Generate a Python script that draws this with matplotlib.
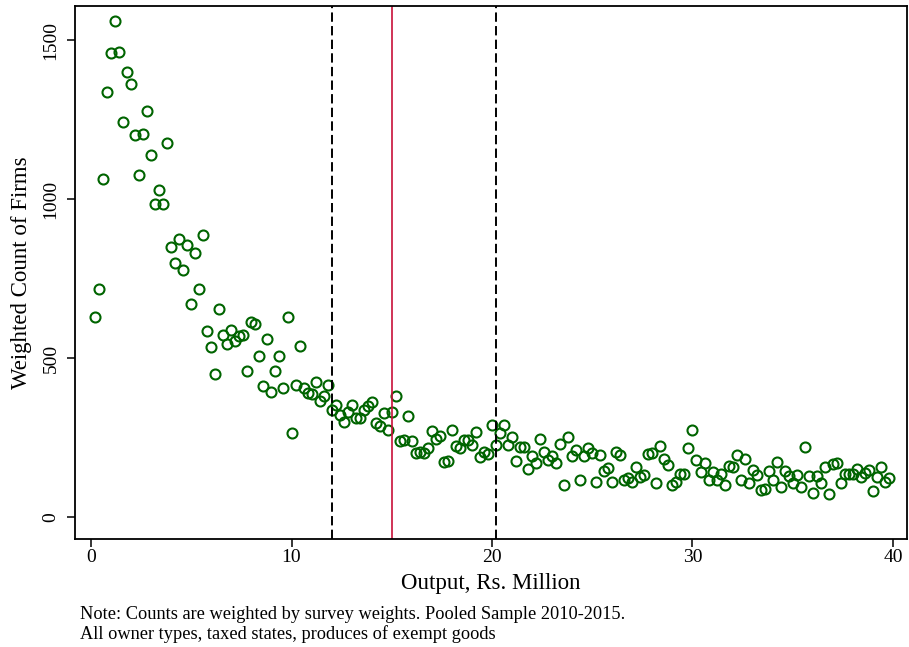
import numpy as np
import matplotlib
matplotlib.use("Agg")
import matplotlib.pyplot as plt

plt.rcParams['font.family'] = ['Liberation Serif', 'DejaVu Serif']

# output bins (Rs. million), 0.2 .. 39.8
output_mn = np.round(np.arange(1, 200) * 0.2, 1)

# weighted count of firms per bin
firm_counts = [
    628, 717, 1062, 1337, 1460, 1561, 1463, 1242, 1400, 1362,
    1200, 1077, 1204, 1276, 1140, 986, 1028, 983, 1175, 850,
    800, 873, 777, 855, 670, 830, 717, 887, 585, 536,
    449, 653, 571, 543, 588, 554, 569, 571, 460, 612,
    606, 507, 413, 560, 392, 460, 506, 405, 629, 265,
    415, 538, 405, 389, 387, 426, 366, 380, 415, 336,
    352, 321, 300, 329, 352, 310, 310, 336, 349, 362,
    295, 286, 328, 274, 331, 380, 240, 242, 317, 239,
    200, 205, 202, 216, 271, 247, 255, 172, 177, 274,
    223, 216, 242, 242, 226, 268, 188, 205, 198, 289,
    226, 263, 290, 226, 252, 176, 221, 221, 150, 192,
    169, 245, 205, 179, 192, 171, 230, 101, 251, 192,
    211, 116, 192, 216, 200, 111, 195, 146, 153, 111,
    205, 195, 118, 122, 111, 158, 125, 132, 198, 200,
    108, 224, 184, 164, 101, 111, 137, 135, 216, 274,
    181, 142, 171, 116, 142, 116, 135, 101, 160, 158,
    195, 116, 184, 106, 148, 132, 85, 87, 146, 116,
    172, 93, 146, 129, 106, 132, 95, 219, 129, 76,
    129, 106, 156, 72, 167, 171, 106, 137, 135, 137,
    150, 125, 139, 148, 83, 125, 158, 111, 122,
]

cutoffs_dashed = [12, 20.2]
cutoff_red = 15

x_ticks = [0, 10, 20, 30, 40]
y_ticks = [0, 500, 1000, 1500]

fig = plt.figure(figsize=(9.09, 6.47), dpi=100)
ax = fig.add_axes([0.0825, 0.1669, 0.9153, 0.8238])

ax.plot(output_mn, firm_counts, linestyle='none', marker='o', markersize=7.2,
        markerfacecolor='none', markeredgecolor='#006400', markeredgewidth=1.5)

for c in cutoffs_dashed:
    ax.axvline(c, color='black', linewidth=1.4, linestyle=(0, (4.8, 2.2)))
ax.axvline(cutoff_red, color='#c8103a', linewidth=1.2)

ax.set_xlim(-0.8, 40.7)
ax.set_ylim(-69, 1607)
ax.set_xticks(x_ticks)
ax.set_yticks(y_ticks)
ax.tick_params(axis='both', direction='out', length=6, width=1.1, labelsize=14, pad=1.5)
ax.tick_params(axis='y', labelrotation=90, pad=5)
for lab in ax.get_yticklabels():
    lab.set_va('center')

for s in ax.spines.values():
    s.set_linewidth(1.3)

ax.set_xlabel('Output, Rs. Million', fontsize=16.5, labelpad=5)
ax.set_ylabel('Weighted Count of Firms', fontsize=16.5, labelpad=8)

fig.text(0.088, 0.063, 'Note: Counts are weighted by survey weights. Pooled Sample 2010-2015.\n'
         'All owner types, taxed states, produces of exempt goods',
         fontsize=13.2, va='top', ha='left', linespacing=1.1)

fig.savefig('out.png', dpi=100)
